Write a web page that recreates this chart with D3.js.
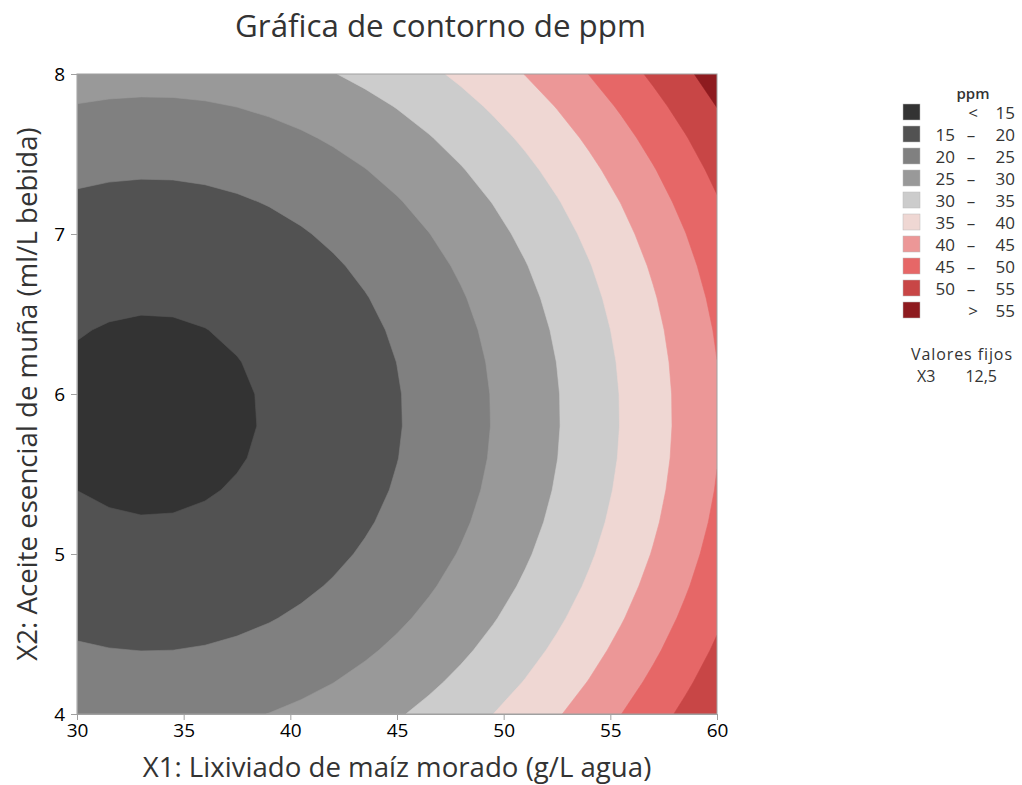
<!DOCTYPE html>
<html><head><meta charset="utf-8">
<script src="https://cdn.jsdelivr.net/npm/d3@7"></script>
<style>
body{margin:0;background:#fff;}
svg{display:block;font-family:"Open Sans","Noto Sans",sans-serif;}
</style>
</head><body>
<svg id="chart" width="1022" height="785"></svg>
<script>
// ---- data ----
const titleText = "Gráfica de contorno de ppm";
const xTitle = "X1: Lixiviado de maíz morado (g/L agua)";
const yTitle = "X2: Aceite esencial de muña (ml/L bebida)";
const x1Values = [30, 31.5, 33, 34.5, 36, 37.5, 39, 40.5, 42, 43.5, 45, 46.5, 48, 49.5, 51, 52.5, 54, 55.5, 57, 58.5, 60];
const x2Values = [4, 4.2, 4.4, 4.6, 4.8, 5, 5.2, 5.4, 5.6, 5.8, 6, 6.2, 6.4, 6.6, 6.8, 7, 7.2, 7.4, 7.6, 7.8, 8];
// ppm estimated on the grid: one row per x2 value (x2 = 4 first), one column per x1 value
const ppmGrid = [
  [24.20, 23.86, 23.71, 23.75, 23.99, 24.43, 25.06, 25.89, 26.92, 28.14, 29.55, 31.17, 32.97, 34.98, 37.17, 39.57, 42.16, 44.95, 47.93, 51.11, 54.48],
  [22.21, 21.87, 21.72, 21.76, 22.00, 22.44, 23.07, 23.90, 24.93, 26.15, 27.56, 29.18, 30.98, 32.99, 35.18, 37.58, 40.17, 42.96, 45.94, 49.12, 52.49],
  [20.44, 20.10, 19.95, 19.99, 20.23, 20.67, 21.30, 22.13, 23.16, 24.38, 25.79, 27.41, 29.21, 31.22, 33.41, 35.81, 38.40, 41.19, 44.17, 47.35, 50.72],
  [18.90, 18.56, 18.41, 18.45, 18.69, 19.13, 19.76, 20.59, 21.62, 22.84, 24.25, 25.87, 27.67, 29.68, 31.87, 34.27, 36.86, 39.65, 42.63, 45.81, 49.18],
  [17.59, 17.25, 17.10, 17.14, 17.38, 17.82, 18.45, 19.28, 20.31, 21.53, 22.94, 24.56, 26.36, 28.37, 30.56, 32.96, 35.55, 38.34, 41.32, 44.50, 47.87],
  [16.50, 16.16, 16.01, 16.05, 16.29, 16.73, 17.36, 18.19, 19.22, 20.44, 21.85, 23.47, 25.27, 27.28, 29.47, 31.87, 34.46, 37.25, 40.23, 43.41, 46.78],
  [15.63, 15.29, 15.14, 15.18, 15.42, 15.86, 16.49, 17.32, 18.35, 19.57, 20.98, 22.60, 24.40, 26.41, 28.60, 31.00, 33.59, 36.38, 39.36, 42.54, 45.91],
  [14.99, 14.65, 14.50, 14.54, 14.78, 15.22, 15.85, 16.68, 17.71, 18.93, 20.34, 21.96, 23.76, 25.77, 27.96, 30.36, 32.95, 35.74, 38.72, 41.90, 45.27],
  [14.57, 14.23, 14.08, 14.12, 14.36, 14.80, 15.43, 16.26, 17.29, 18.51, 19.92, 21.54, 23.34, 25.35, 27.54, 29.94, 32.53, 35.32, 38.30, 41.48, 44.85],
  [14.38, 14.04, 13.89, 13.93, 14.17, 14.61, 15.24, 16.07, 17.10, 18.32, 19.73, 21.35, 23.15, 25.16, 27.35, 29.75, 32.34, 35.13, 38.11, 41.29, 44.66],
  [14.42, 14.08, 13.93, 13.97, 14.21, 14.65, 15.28, 16.11, 17.14, 18.36, 19.77, 21.39, 23.19, 25.20, 27.39, 29.79, 32.38, 35.17, 38.15, 41.33, 44.70],
  [14.68, 14.34, 14.19, 14.23, 14.47, 14.91, 15.54, 16.37, 17.40, 18.62, 20.03, 21.65, 23.45, 25.46, 27.65, 30.05, 32.64, 35.43, 38.41, 41.59, 44.96],
  [15.16, 14.82, 14.67, 14.71, 14.95, 15.39, 16.02, 16.85, 17.88, 19.10, 20.51, 22.13, 23.93, 25.94, 28.13, 30.53, 33.12, 35.91, 38.89, 42.07, 45.44],
  [15.87, 15.53, 15.38, 15.42, 15.66, 16.10, 16.73, 17.56, 18.59, 19.81, 21.22, 22.84, 24.64, 26.65, 28.84, 31.24, 33.83, 36.62, 39.60, 42.78, 46.15],
  [16.80, 16.46, 16.31, 16.35, 16.59, 17.03, 17.66, 18.49, 19.52, 20.74, 22.15, 23.77, 25.57, 27.58, 29.77, 32.17, 34.76, 37.55, 40.53, 43.71, 47.08],
  [17.96, 17.62, 17.47, 17.51, 17.75, 18.19, 18.82, 19.65, 20.68, 21.90, 23.31, 24.93, 26.73, 28.74, 30.93, 33.33, 35.92, 38.71, 41.69, 44.87, 48.24],
  [19.34, 19.00, 18.85, 18.89, 19.13, 19.57, 20.20, 21.03, 22.06, 23.28, 24.69, 26.31, 28.11, 30.12, 32.31, 34.71, 37.30, 40.09, 43.07, 46.25, 49.62],
  [20.95, 20.61, 20.46, 20.50, 20.74, 21.18, 21.81, 22.64, 23.67, 24.89, 26.30, 27.92, 29.72, 31.73, 33.92, 36.32, 38.91, 41.70, 44.68, 47.86, 51.23],
  [22.78, 22.44, 22.29, 22.33, 22.57, 23.01, 23.64, 24.47, 25.50, 26.72, 28.13, 29.75, 31.55, 33.56, 35.75, 38.15, 40.74, 43.53, 46.51, 49.69, 53.06],
  [24.84, 24.50, 24.35, 24.39, 24.63, 25.07, 25.70, 26.53, 27.56, 28.78, 30.19, 31.81, 33.61, 35.62, 37.81, 40.21, 42.80, 45.59, 48.57, 51.75, 55.12],
  [27.12, 26.78, 26.63, 26.67, 26.91, 27.35, 27.98, 28.81, 29.84, 31.06, 32.47, 34.09, 35.89, 37.90, 40.09, 42.49, 45.08, 47.87, 50.85, 54.03, 57.40]
];
const bandLowerBounds = [0, 15, 20, 25, 30, 35, 40, 45, 50, 55];
const bandColors = ["#333333", "#525252", "#808080", "#999999", "#cccccc",
                    "#efd7d3", "#ec9797", "#e66767", "#c84646", "#8e1b1f"];
const legendLow  = ["", "15", "20", "25", "30", "35", "40", "45", "50", ""];
const legendMid  = ["<", "–", "–", "–", "–", "–", "–", "–", "–", ">"];
const legendHigh = ["15", "20", "25", "30", "35", "40", "45", "50", "55", "55"];
const xTicks = [30, 35, 40, 45, 50, 55, 60];
const yTicks = [4, 5, 6, 7, 8];
const fixedLabel = "Valores fijos";
const fixedName = "X3";
const fixedValue = "12,5";

// ---- layout ----
const svg = d3.select("#chart");
const L = 77, R = 717, T = 74, B = 714;
const x = d3.scaleLinear().domain([30, 60]).range([L, R]);
const y = d3.scaleLinear().domain([4, 8]).range([B, T]);

const n = x1Values.length, m = x2Values.length;
// d3.contours places sample i at grid coordinate i + 0.5
const gx = d3.scaleLinear().domain([0.5, n - 0.5]).range([x1Values[0], x1Values[n - 1]]);
const gy = d3.scaleLinear().domain([0.5, m - 0.5]).range([x2Values[0], x2Values[m - 1]]);
const flat = ppmGrid.flat();

svg.append("defs").append("clipPath").attr("id", "plotclip")
  .append("rect").attr("x", L).attr("y", T).attr("width", R - L).attr("height", B - T);

const contours = d3.contours().size([n, m]).thresholds(bandLowerBounds)(flat);
const path = d3.geoPath();
function toPixels(geom) {
  return {
    type: "MultiPolygon",
    coordinates: geom.coordinates.map(poly => poly.map(ring =>
      ring.map(([a, b]) => [x(gx(a)), y(gy(b))])))
  };
}
svg.append("g").attr("clip-path", "url(#plotclip)")
  .selectAll("path").data(contours).join("path")
  .attr("d", d => path(toPixels(d)))
  .attr("fill", (d, i) => bandColors[i])
  .attr("fill-rule", "evenodd")
  .attr("stroke", (d, i) => bandColors[i])
  .attr("stroke-width", 0.6);

// frame
svg.append("rect").attr("x", L).attr("y", T).attr("width", R - L).attr("height", B - T)
  .attr("fill", "none").attr("stroke", "#a0a0a0").attr("stroke-width", 1);

// axes
const fmt = d3.format("d");
const gxAxis = svg.append("g").attr("transform", `translate(0,${B})`)
  .call(d3.axisBottom(x).tickValues(xTicks).tickFormat(fmt).tickSize(6).tickSizeOuter(0).tickPadding(4));
const gyAxis = svg.append("g").attr("transform", `translate(${L},0)`)
  .call(d3.axisLeft(y).tickValues(yTicks).tickFormat(fmt).tickSize(6).tickSizeOuter(0).tickPadding(6));
[gxAxis, gyAxis].forEach(g => {
  g.select(".domain").attr("stroke", "#a0a0a0");
  g.selectAll(".tick line").attr("stroke", "#a0a0a0");
  g.selectAll(".tick text").attr("fill", "#000").attr("font-size", 19)
    .attr("font-family", '"Open Sans","Noto Sans",sans-serif');
});

function fit(sel, w) {
  const cur = sel.node().getComputedTextLength();
  const fs = parseFloat(sel.attr("font-size"));
  sel.attr("font-size", fs * w / cur);
  return fs * w / cur;
}

// title
const t = svg.append("text").attr("x", 440.5).attr("y", 37).attr("text-anchor", "middle")
  .attr("font-size", 28).attr("fill", "#333").text(titleText);
fit(t, 411);

// axis titles
const xt = svg.append("text").attr("x", (L + R) / 2).attr("y", 777).attr("text-anchor", "middle")
  .attr("font-size", 24).attr("fill", "#333").text(xTitle);
const afs = fit(xt, 509);
svg.append("text").attr("transform", `translate(37,${(T + B) / 2}) rotate(-90)`)
  .attr("text-anchor", "middle").attr("font-size", afs).attr("fill", "#333").text(yTitle);

// legend
const lg = svg.append("g").attr("font-size", 17).attr("fill", "#333");
lg.append("text").attr("x", 973).attr("y", 99).attr("text-anchor", "middle")
  .attr("font-weight", 600).attr("font-size", 15).text("ppm");
const rows = lg.selectAll("g.row").data(bandColors).join("g").attr("class", "row")
  .attr("transform", (d, i) => `translate(0,${104 + i * 22})`);
rows.append("rect").attr("x", 903).attr("y", 0).attr("width", 17).attr("height", 16)
  .attr("fill", d => d).attr("stroke", "#bbb").attr("stroke-width", 0.5);
rows.append("text").attr("x", 955).attr("y", 15).attr("text-anchor", "end")
  .text((d, i) => legendLow[i]);
rows.append("text").attr("x", (d, i) => (legendLow[i] ? 971 : 973)).attr("y", 15)
  .attr("text-anchor", "middle").text((d, i) => legendMid[i]);
rows.append("text").attr("x", 1015).attr("y", 15).attr("text-anchor", "end")
  .text((d, i) => legendHigh[i]);

lg.append("text").attr("x", 962).attr("y", 360).attr("text-anchor", "middle")
  .attr("font-size", 16).attr("letter-spacing", 0.9).text(fixedLabel);
lg.append("text").attr("x", 917).attr("y", 382).attr("font-size", 16).text(fixedName);
lg.append("text").attr("x", 997).attr("y", 382).attr("text-anchor", "end").attr("font-size", 16).text(fixedValue);
</script>
</body></html>
